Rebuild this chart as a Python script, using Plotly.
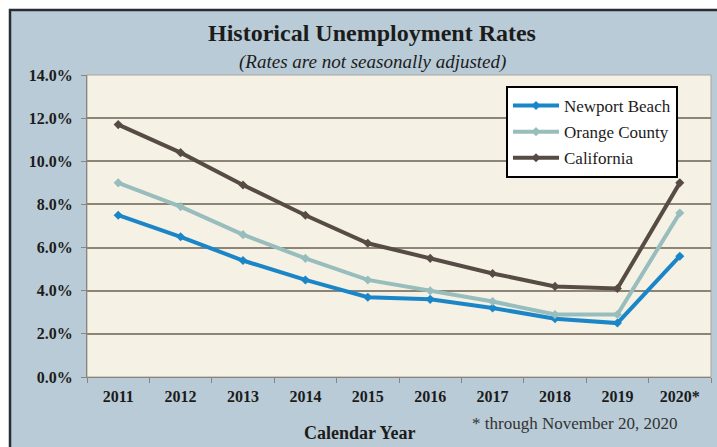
import plotly.graph_objects as go

# Calendar years on the category axis (2020 is a partial year)
years = ["2011", "2012", "2013", "2014", "2015", "2016", "2017", "2018", "2019", "2020*"]

# Annual unemployment rates, percent, not seasonally adjusted
newport_beach = [7.5, 6.5, 5.4, 4.5, 3.7, 3.6, 3.2, 2.7, 2.5, 5.6]
orange_county = [9.0, 7.9, 6.6, 5.5, 4.5, 4.0, 3.5, 2.9, 2.9, 7.6]
california = [11.7, 10.4, 8.9, 7.5, 6.2, 5.5, 4.8, 4.2, 4.1, 9.0]

y_ticks = [0, 2, 4, 6, 8, 10, 12, 14]
y_tick_text = [f"{v:.1f}%" for v in y_ticks]

W, H = 717, 447
L, R, T, B = 87, 6, 75, 70
pw, ph = W - L - R, H - T - B


def px_x(p):
    return (p - L) / pw


def px_y(p):
    return (H - B - p) / ph


SERIF = "Liberation Serif"
INK = "#1c1c1c"

series = [
    ("Newport Beach", newport_beach, "#1a86c8"),
    ("Orange County", orange_county, "#98bdbd"),
    ("California", california, "#574c45"),
]

fig = go.Figure()
for i, (name, vals, color) in enumerate(series):
    fig.add_trace(go.Scatter(
        x=years, y=vals, name=name, mode="lines+markers",
        line=dict(color=color, width=4),
        marker=dict(symbol="diamond", size=7, color=color),
        legendgroup=f"g{i}",
    ))

shapes = [
    # outer chart panel
    dict(type="rect", xref="paper", yref="paper", layer="below",
         x0=px_x(10), x1=px_x(W + 10), y0=px_y(H + 10), y1=px_y(10),
         fillcolor="#b9cbd6", line=dict(color="#2a2d30", width=2.5)),
    # plot area
    dict(type="rect", xref="paper", yref="paper", layer="below",
         x0=0, x1=1, y0=0, y1=1,
         fillcolor="#f6f1e5", line=dict(color="#a8a59c", width=1)),
]

annotations = [
    dict(text="<b>Historical Unemployment Rates</b>", xref="paper", yref="paper",
         x=px_x(372), y=px_y(33), xanchor="center", yanchor="middle", showarrow=False,
         font=dict(family=SERIF, size=24, color=INK)),
    dict(text="<i>(Rates are not seasonally adjusted)</i>", xref="paper", yref="paper",
         x=px_x(372), y=px_y(62), xanchor="center", yanchor="middle", showarrow=False,
         font=dict(family=SERIF, size=19, color=INK)),
    dict(text="<b>Calendar Year</b>", xref="paper", yref="paper",
         x=px_x(360), y=px_y(433), xanchor="center", yanchor="middle", showarrow=False,
         font=dict(family=SERIF, size=18, color=INK)),
    dict(text="* through November 20, 2020", xref="paper", yref="paper",
         x=px_x(574), y=px_y(423), xanchor="center", yanchor="middle", showarrow=False,
         font=dict(family=SERIF, size=17, color="#333333")),
]

fig.update_layout(
    width=W, height=H,
    margin=dict(l=L, r=R, t=T, b=B, pad=0),
    paper_bgcolor="white",
    plot_bgcolor="rgba(0,0,0,0)",
    shapes=shapes,
    annotations=annotations,
    showlegend=True,
    legend=dict(
        x=px_x(506), y=px_y(86), xanchor="left", yanchor="top",
        bgcolor="white", bordercolor="black", borderwidth=2,
        font=dict(family=SERIF, size=17, color=INK),
        traceorder="grouped", tracegroupgap=1,
        itemwidth=46,
    ),
    xaxis=dict(
        type="category", range=[-0.5, 9.5],
        showgrid=False, showline=True, linecolor="#8a857c", linewidth=1,
        ticks="outside", tickson="boundaries", ticklen=5, tickcolor="#8a857c",
        tickfont=dict(family=SERIF, size=16, color=INK, weight="bold"),
        ticklabelstandoff=5,
    ),
    yaxis=dict(
        range=[0, 14], tickvals=y_ticks, ticktext=y_tick_text,
        showgrid=True, gridcolor="#8c8477", gridwidth=1.5,
        showline=True, linecolor="#8a857c", linewidth=1,
        ticks="outside", ticklen=5, tickcolor="#8a857c",
        tickfont=dict(family=SERIF, size=16, color=INK, weight="bold"),
        ticklabelstandoff=5,
        zeroline=False,
    ),
)

fig.write_html("out.html")
